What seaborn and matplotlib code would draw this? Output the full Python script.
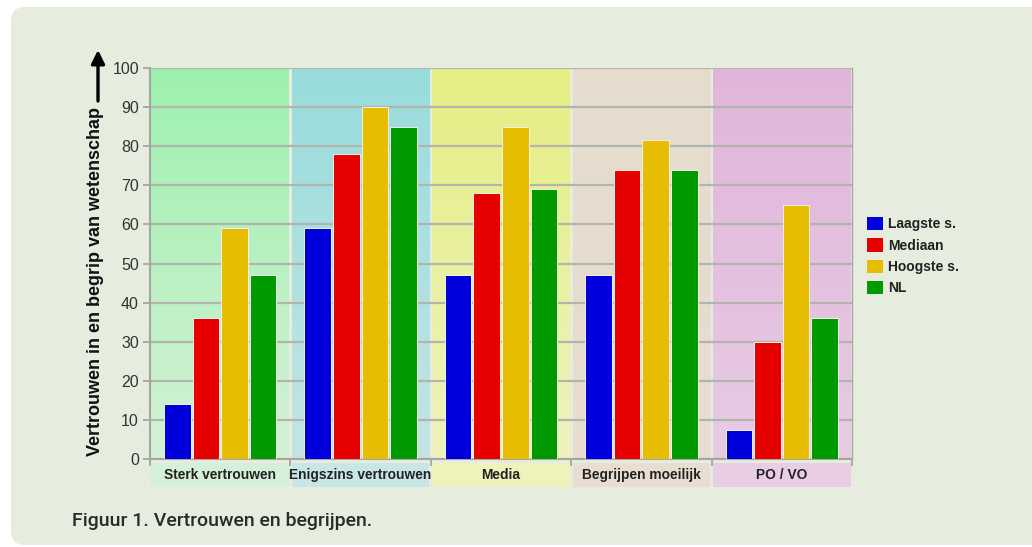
import numpy as np
import pandas as pd
import matplotlib
matplotlib.use("Agg")
import matplotlib.pyplot as plt
from matplotlib.patches import FancyBboxPatch, Rectangle
import seaborn as sns

# ---- data ----
categories = ["Sterk vertrouwen", "Enigszins vertrouwen", "Media",
              "Begrijpen moeilijk", "PO / VO"]
series = ["Laagste s.", "Mediaan", "Hoogste s.", "NL"]
laagste = [14, 59, 47, 47, 7.5]
mediaan = [36, 78, 68, 74, 30]
hoogste = [59, 90, 85, 81.5, 65]
nl = [47, 85, 69, 74, 36]
y_ticks = [0, 10, 20, 30, 40, 50, 60, 70, 80, 90, 100]
y_label = "Vertrouwen in en begrip van wetenschap"
caption = "Figuur 1. Vertrouwen en begrijpen."

# ---- styling ----
bar_colors = ["#0000dd", "#e60000", "#e6bd00", "#009a00"]
panel_top = ["#9ef0ae", "#98dcdc", "#e5ee82", "#e5dccd", "#e1b5db"]
panel_bottom = ["#d4f1d6", "#c4e4e4", "#eef2be", "#e8ddd0", "#e7cbe3"]
label_box = ["#d5f0d8", "#c8e6e6", "#eef3bb", "#e8ddd0", "#e8cde4"]
bg = "#e6eddf"
grid_c = "#b2b4ae"
spine_c = "#a4a6a0"

df = pd.DataFrame({
    "categorie": np.repeat(categories, len(series)),
    "reeks": series * len(categories),
    "score": np.ravel(np.column_stack([laagste, mediaan, hoogste, nl])),
})

sns.set_style("ticks")
plt.rcParams["font.family"] = ["Liberation Sans", "DejaVu Sans"]

W, H, DPI = 1032, 547, 100
fig = plt.figure(figsize=(W / DPI, H / DPI), dpi=DPI)
fig.patch.set_facecolor("white")

# rounded card behind everything
card = FancyBboxPatch((11, 2), W + 40, H - 9, boxstyle="round,pad=0,rounding_size=14",
                      transform=None, facecolor=bg, edgecolor="none", zorder=-10)
fig.add_artist(card)

ax = fig.add_axes([150 / W, 1 - 459 / H, 702 / W, 391 / H])
ax.patch.set_alpha(0)

# bars
sns.barplot(data=df, x="categorie", y="score", hue="reeks", order=categories,
            hue_order=series, palette=bar_colors, saturation=1, width=0.815, gap=0.07,
            edgecolor="#f2f2e4", linewidth=0.7, zorder=3, ax=ax)

# vertical gradient panels per category
for i in range(len(categories)):
    top = np.array(matplotlib.colors.to_rgb(panel_top[i]))
    bot = np.array(matplotlib.colors.to_rgb(panel_bottom[i]))
    t = np.linspace(0, 1, 200)[:, None]
    grad = (top * (1 - t) + bot * t)[:, None, :]
    ax.imshow(grad, extent=(i - 0.49, i + 0.49, 0, 100), aspect="auto",
              origin="upper", zorder=0.5, interpolation="bilinear")
ax.set_xlim(-0.5, len(categories) - 0.5)
ax.set_ylim(0, 100)

# grid and axes
ax.set_axisbelow("line")
ax.yaxis.grid(True, color=grid_c, linewidth=1.6)
ax.xaxis.grid(False)
ax.set_yticks(y_ticks)
ax.tick_params(axis="y", length=5, width=1.3, color=spine_c, labelsize=11.5,
               labelcolor="#333333", pad=3)
ax.set_xticks(np.arange(len(categories) + 1) - 0.5)
ax.set_xticklabels([])
ax.tick_params(axis="x", length=5, width=1.3, color=spine_c)
for s in ["left", "bottom", "right"]:
    ax.spines[s].set_color(spine_c)
    ax.spines[s].set_linewidth(1.5)
ax.spines["top"].set_visible(False)
ax.spines["right"].set_linewidth(1.0)
ax.set_xlabel("")

# category labels in coloured boxes under the axis
xt = ax.get_xaxis_transform()
for i, cat in enumerate(categories):
    ax.add_patch(Rectangle((i - 0.49, -0.0716), 0.98, 0.0614, transform=xt,
                           facecolor=label_box[i], edgecolor="none", clip_on=False))
    ax.text(i, -0.041, cat, transform=xt, ha="center", va="center",
            fontsize=9.9, fontweight="bold", color="#222222")

# y label with upward arrow
ax.set_ylabel(y_label, fontsize=13, fontweight="bold", color="#111111")
ax.yaxis.label.set_verticalalignment("center")
ax.yaxis.set_label_coords(-0.077, (459 - 282) / 391)
ax.annotate("", xy=(98, H - 50), xytext=(98, H - 101), xycoords="figure pixels",
            textcoords="figure pixels",
            arrowprops=dict(arrowstyle="-|>", color="black", lw=2.4,
                            mutation_scale=20, shrinkA=0, shrinkB=0))

# legend
handles, labels = ax.get_legend_handles_labels()
leg = ax.legend(handles, labels, loc="upper left",
                bbox_to_anchor=(867 / W, 1 - 217 / H), bbox_transform=fig.transFigure,
                frameon=False, prop={"weight": "bold", "size": 10},
                handlelength=1.15, handleheight=1.1, labelspacing=0.5,
                handletextpad=0.35, borderpad=0, borderaxespad=0)
for h in leg.legend_handles:
    h.set_edgecolor("none")
for txt in leg.get_texts():
    txt.set_color("#222222")

# caption, fitted to its width
cap = fig.text(72 / W, 1 - 521 / H, caption, ha="left", va="center",
               fontsize=14, family=["Roboto", "DejaVu Sans"], fontweight="medium",
               color="#2a2a2a")
fig.canvas.draw()
wpx = cap.get_window_extent().width
cap.set_fontsize(14 * 301 / wpx)

fig.savefig("out.png", dpi=DPI, facecolor=fig.get_facecolor())
